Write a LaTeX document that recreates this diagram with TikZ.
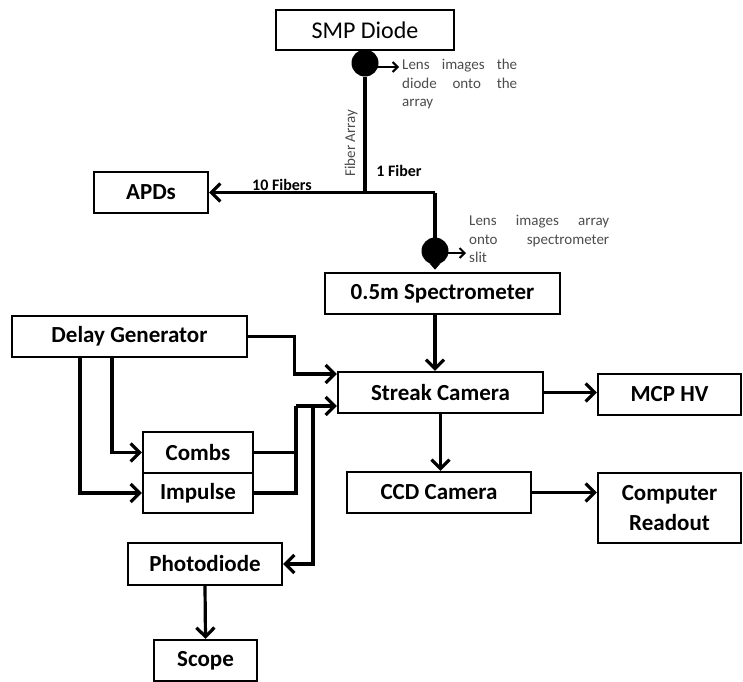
\documentclass[tikz,border=0pt]{standalone}
\usepackage{fontspec}
\setmainfont{Carlito}
\usetikzlibrary{arrows.meta}

\begin{document}
\begin{tikzpicture}[x=1pt, y=-1pt, line join=miter,
	box/.style={draw, line width=2.2pt, inner sep=0pt, align=center, font=\fontsize{23}{26}\selectfont\bfseries},
	lens/.style={circle, fill=black, inner sep=0pt, minimum size=27pt},
	note/.style={text width=#1, align=justify, inner sep=0pt, anchor=north west, text=black!70, font=\fontsize{15}{18.5}\selectfont},
	tag/.style={inner sep=0pt, font=\fontsize{16}{18}\selectfont\bfseries},
	wire/.style={line width=3.2pt},
	feed/.style={wire, -{Straight Barb[length=9pt,width=18pt]}},
	hint/.style={line width=2pt, -{Straight Barb[length=5pt,width=10pt]}}]
\useasboundingbox (0,0) rectangle (743,681);
\node[box, minimum width=178pt, minimum height=40pt, font=\fontsize{24}{26}\selectfont] (smp) at (365,30) {SMP Diode};
\node[box, minimum width=114pt, minimum height=41pt] (apds) at (151,192.5) {APDs};
\node[box, minimum width=235pt, minimum height=41pt] (spec) at (442.5,293.5) {0.5m Spectrometer};
\node[box, minimum width=235pt, minimum height=41pt] (delay) at (129.5,336.5) {Delay Generator};
\node[box, minimum width=205pt, minimum height=41pt] (streak) at (440.5,392.5) {Streak Camera};
\node[box, minimum width=143pt, minimum height=41pt] (mcp) at (669.5,394.5) {MCP HV};
\node[box, minimum width=110pt, minimum height=41pt] (combs) at (198,452.5) {Combs};
\node[box, minimum width=110pt, minimum height=40pt] (impulse) at (198,493) {Impulse};
\node[box, minimum width=184pt, minimum height=41pt] (ccd) at (439,492.5) {CCD Camera};
\node[box, minimum width=143pt, minimum height=70pt, font=\fontsize{23}{30}\selectfont\bfseries] (comp) at (669.5,508) {Computer\\Readout};
\node[box, minimum width=154pt, minimum height=42pt] (photo) at (205,564) {Photodiode};
\node[box, minimum width=103pt, minimum height=41pt] (scope) at (205.5,660.5) {Scope};

\node[lens] (lens1) at (365,63) {};
\node[lens] (lens2) at (435,251) {};
\node[note=115pt] (note1) at (402,59) {Lens images the\linebreak diode onto the\linebreak array};
\node[note=140pt] (note2) at (469,215) {Lens images array\linebreak onto spectrometer\linebreak slit};
\node[inner sep=0pt, rotate=90, text=black!70, font=\fontsize{15}{17}\selectfont] (fa) at (351,143) {Fiber Array};
\node[tag] (one) at (399,171) {1 Fiber};
\node[tag] (ten) at (282,185) {10 Fibers};

\coordinate (split) at (365,192.5);
\coordinate (corner) at (435,192.5);
\coordinate (aim1) at (399,67);
\coordinate (aim2) at (466,253);
\coordinate (bus) at (296,406);
\coordinate (tap) at (313,406);

\draw[hint] (lens1.center |- aim1) -- (aim1);
\draw[hint] (lens2.center |- aim2) -- (aim2);
\draw[wire] (lens1) -- (split);
\draw[feed] (corner) -- (apds.east);
\draw[wire, -{Triangle[length=6pt,width=10pt]}] (corner) -- ([yshift=-5pt]lens2.south);
\draw[feed] (spec.south -| corner) -- (streak.north -| corner);
\draw[feed] (streak) -- (mcp.west |- streak);
\draw[feed] (streak.south) -- (streak.south |- ccd.north);
\draw[feed] (ccd) -- (comp.west |- ccd);
\draw[feed] (delay.east) -- ++(46,0) |- ([yshift=18.5pt]streak.west);
\draw[wire] (combs.east) -| (bus);
\draw[wire] (impulse.east) -| (bus);
\draw[feed] (bus) -- (bus -| streak.west);
\draw[feed] (tap) |- (photo.east);
\draw[feed] ([xshift=-17.5pt]delay.south) |- (combs.west);
\draw[feed] ([xshift=-49.5pt]delay.south) |- (impulse.west);
\draw[feed] (photo.south) -- (scope.north);
\end{tikzpicture}
\end{document}
